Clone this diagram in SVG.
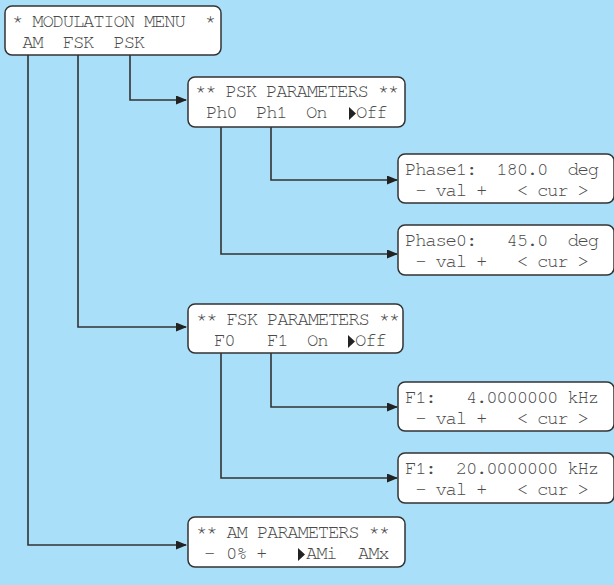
<svg xmlns="http://www.w3.org/2000/svg" width="614" height="585" viewBox="0 0 614 585">
<style>
.bg{fill:#a9dff8}
.box{fill:#ffffff;stroke:#333333;stroke-width:1.5}
.t{font-family:"Nimbus Mono PS","FreeMono","Liberation Mono","DejaVu Sans Mono",monospace;font-size:19px;letter-spacing:-1.25px;fill:#4a4a4a;white-space:pre}
.c{fill:none;stroke:#333333;stroke-width:1.6}
.tri{fill:#222222}
</style>
<defs>
<marker id="ah" markerWidth="11" markerHeight="9" refX="10" refY="4.5" orient="auto" markerUnits="userSpaceOnUse">
<path d="M0,0 L11,4.5 L0,9 Z" fill="#222222"/>
</marker>
</defs>
<rect class="bg" x="0" y="0" width="614" height="585"/>
<g id="connectors">
<path class="c" d="M130,55 V100 H186" marker-end="url(#ah)"/>
<path class="c" d="M271,127 V180 H397" marker-end="url(#ah)"/>
<path class="c" d="M221,127 V254 H397" marker-end="url(#ah)"/>
<path class="c" d="M78,55 V327 H186" marker-end="url(#ah)"/>
<path class="c" d="M271,353 V407 H397" marker-end="url(#ah)"/>
<path class="c" d="M221,353 V478 H397" marker-end="url(#ah)"/>
<path class="c" d="M28,55 V545 H186" marker-end="url(#ah)"/>
</g>
<g id="main-menu">
<rect class="box" x="5" y="6" width="216" height="49" rx="7"/>
<text class="t" x="12" y="27">* MODULATION MENU  *</text>
<text class="t" x="12" y="48"> AM  FSK  PSK</text>
</g>
<g id="psk-params">
<rect class="box" x="188" y="77" width="217" height="50" rx="7"/>
<text class="t" x="195" y="97">** PSK PARAMETERS **</text>
<text class="t" x="206" y="118">Ph0</text>
<text class="t" x="256" y="118">Ph1</text>
<text class="t" x="306" y="118">On</text>
<polygon class="tri" points="349,107 349,120 356,113.5"/>
<text class="t" x="356" y="118">Off</text>
</g>
<g id="phase1">
<rect class="box" x="398" y="154" width="216" height="49" rx="7"/>
<text class="t" x="405" y="175">Phase1:  180.0  deg</text>
<text class="t" x="405" y="196"> - val +   &lt; cur &gt;</text>
</g>
<g id="phase0">
<rect class="box" x="398" y="225" width="216" height="50" rx="7"/>
<text class="t" x="405" y="246">Phase0:   45.0  deg</text>
<text class="t" x="405" y="267"> - val +   &lt; cur &gt;</text>
</g>
<g id="fsk-params">
<rect class="box" x="188" y="304" width="215" height="49" rx="7"/>
<text class="t" x="196" y="325">** FSK PARAMETERS **</text>
<text class="t" x="214" y="346">F0</text>
<text class="t" x="267" y="346">F1</text>
<text class="t" x="307" y="346">On</text>
<polygon class="tri" points="348,335 348,348 355,341.5"/>
<text class="t" x="355" y="346">Off</text>
</g>
<g id="f1-4">
<rect class="box" x="398" y="382" width="216" height="49" rx="7"/>
<text class="t" x="405" y="403">F1:   4.0000000 kHz</text>
<text class="t" x="405" y="424"> - val +   &lt; cur &gt;</text>
</g>
<g id="f1-20">
<rect class="box" x="398" y="453" width="216" height="50" rx="7"/>
<text class="t" x="405" y="474">F1:  20.0000000 kHz</text>
<text class="t" x="405" y="495"> - val +   &lt; cur &gt;</text>
</g>
<g id="am-params">
<rect class="box" x="188" y="517" width="217" height="50" rx="7"/>
<text class="t" x="196" y="538">** AM PARAMETERS **</text>
<text class="t" x="204" y="559">-</text>
<text class="t" x="226" y="559">0%</text>
<text class="t" x="256" y="559">+</text>
<polygon class="tri" points="298,548 298,561 305,554.5"/>
<text class="t" x="306" y="559">AMi</text>
<text class="t" x="358" y="559">AMx</text>
</g>
</svg>
